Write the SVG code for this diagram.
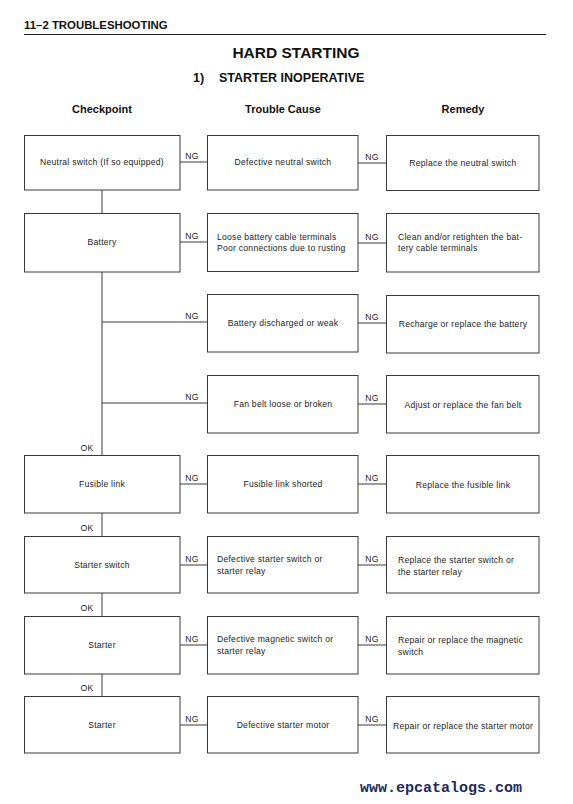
<svg xmlns="http://www.w3.org/2000/svg" width="573" height="804" viewBox="0 0 573 804">
<style>
.box{fill:#fff;stroke:#3a3a3a;stroke-width:1}
.ln{stroke:#3a3a3a;stroke-width:1;fill:none}
.t{font-family:"Liberation Sans",Arial,sans-serif;font-size:8.6px;letter-spacing:0.25px;fill:#222}
.c{text-anchor:middle}
.h{font-family:"Liberation Sans",Arial,sans-serif;font-weight:bold;fill:#111}
</style>
<rect width="573" height="804" fill="#fff"/>
<g id="header">
<text class="h" x="24" y="29" font-size="11.4">11–2  TROUBLESHOOTING</text>
<line x1="24" y1="34.5" x2="546" y2="34.5" stroke="#222" stroke-width="1.2"/>
<text class="h" x="296" y="58" font-size="15.5" text-anchor="middle">HARD STARTING</text>
<text class="h" x="193" y="82" font-size="12.5">1)</text>
<text class="h" x="219" y="82" font-size="12.5">STARTER INOPERATIVE</text>
<text class="h c" x="102" y="113" font-size="11">Checkpoint</text>
<text class="h c" x="283" y="113" font-size="11">Trouble Cause</text>
<text class="h c" x="463" y="113" font-size="11">Remedy</text>
</g>
<g id="connectors">
<line class="ln" x1="102" y1="190" x2="102" y2="213"/>
<line class="ln" x1="102" y1="272" x2="102" y2="455"/>
<line class="ln" x1="102" y1="513" x2="102" y2="536"/>
<line class="ln" x1="102" y1="593" x2="102" y2="616"/>
<line class="ln" x1="102" y1="674" x2="102" y2="696"/>
<line class="ln" x1="102" y1="322" x2="207" y2="322"/>
<line class="ln" x1="102" y1="403" x2="207" y2="403"/>
<line class="ln" x1="180" y1="162" x2="207" y2="162"/>
<line class="ln" x1="358" y1="163" x2="386" y2="163"/>
<line class="ln" x1="180" y1="242" x2="207" y2="242"/>
<line class="ln" x1="358" y1="243" x2="386" y2="243"/>
<line class="ln" x1="358" y1="323" x2="386" y2="323"/>
<line class="ln" x1="358" y1="404" x2="386" y2="404"/>
<line class="ln" x1="180" y1="484" x2="207" y2="484"/>
<line class="ln" x1="358" y1="484" x2="386" y2="484"/>
<line class="ln" x1="180" y1="565" x2="207" y2="565"/>
<line class="ln" x1="358" y1="565" x2="386" y2="565"/>
<line class="ln" x1="180" y1="645" x2="207" y2="645"/>
<line class="ln" x1="358" y1="645" x2="386" y2="645"/>
<line class="ln" x1="180" y1="725" x2="207" y2="725"/>
<line class="ln" x1="358" y1="725" x2="386" y2="725"/>
<g class="t c">
<text x="192" y="159">NG</text><text x="372" y="160">NG</text>
<text x="192" y="239">NG</text><text x="372" y="240">NG</text>
<text x="192" y="319">NG</text><text x="372" y="320">NG</text>
<text x="192" y="400">NG</text><text x="372" y="401">NG</text>
<text x="192" y="481">NG</text><text x="372" y="481">NG</text>
<text x="192" y="562">NG</text><text x="372" y="562">NG</text>
<text x="192" y="642">NG</text><text x="372" y="642">NG</text>
<text x="192" y="722">NG</text><text x="372" y="722">NG</text>
<text x="87" y="451">OK</text>
<text x="87" y="531">OK</text>
<text x="87" y="611">OK</text>
<text x="87" y="691">OK</text>
</g>
</g>
<g id="cp1"><rect class="box" x="24.5" y="135.5" width="155.5" height="54.5"/><text class="t c" x="102" y="165">Neutral switch (If so equipped)</text></g>
<g id="tc1"><rect class="box" x="207.5" y="135.5" width="150.5" height="54.5"/><text class="t c" x="283" y="165">Defective neutral switch</text></g>
<g id="rm1"><rect class="box" x="386.5" y="135.5" width="152.5" height="55"/><text class="t c" x="463" y="166">Replace the neutral switch</text></g>

<g id="cp2"><rect class="box" x="24.5" y="213.5" width="155.5" height="58.5"/><text class="t c" x="102" y="245">Battery</text></g>
<g id="tc2"><rect class="box" x="207.5" y="213.5" width="150.5" height="58"/><text class="t" x="217" y="240">Loose battery cable terminals</text><text class="t" x="217" y="251">Poor connections due to rusting</text></g>
<g id="rm2"><rect class="box" x="386.5" y="213.5" width="152.5" height="58.5"/><text class="t" x="398" y="240">Clean and/or retighten the bat-</text><text class="t" x="398" y="251">tery cable terminals</text></g>

<g id="tc3"><rect class="box" x="207.5" y="294.5" width="150.5" height="57.5"/><text class="t c" x="283" y="326">Battery discharged or weak</text></g>
<g id="rm3"><rect class="box" x="386.5" y="295.5" width="152.5" height="57.5"/><text class="t c" x="463" y="327">Recharge or replace the battery</text></g>

<g id="tc4"><rect class="box" x="207.5" y="375.5" width="150.5" height="57.5"/><text class="t c" x="283" y="407">Fan belt loose or broken</text></g>
<g id="rm4"><rect class="box" x="386.5" y="375.5" width="152.5" height="57.5"/><text class="t c" x="463" y="408">Adjust or replace the fan belt</text></g>

<g id="cp5"><rect class="box" x="24.5" y="455.5" width="155.5" height="57.5"/><text class="t c" x="102" y="487">Fusible link</text></g>
<g id="tc5"><rect class="box" x="207.5" y="455.5" width="150.5" height="57.5"/><text class="t c" x="283" y="487">Fusible link shorted</text></g>
<g id="rm5"><rect class="box" x="386.5" y="455.5" width="152.5" height="57.5"/><text class="t c" x="463" y="488">Replace the fusible link</text></g>

<g id="cp6"><rect class="box" x="24.5" y="536.5" width="155.5" height="56.5"/><text class="t c" x="102" y="568">Starter switch</text></g>
<g id="tc6"><rect class="box" x="207.5" y="536.5" width="150.5" height="56.5"/><text class="t" x="217" y="562">Defective starter switch or</text><text class="t" x="217" y="574">starter relay</text></g>
<g id="rm6"><rect class="box" x="386.5" y="536.5" width="152.5" height="56.5"/><text class="t" x="398" y="563">Replace the starter switch or</text><text class="t" x="398" y="575">the starter relay</text></g>

<g id="cp7"><rect class="box" x="24.5" y="616.5" width="155.5" height="57.5"/><text class="t c" x="102" y="648">Starter</text></g>
<g id="tc7"><rect class="box" x="207.5" y="616.5" width="150.5" height="57.5"/><text class="t" x="217" y="642">Defective magnetic switch or</text><text class="t" x="217" y="654">starter relay</text></g>
<g id="rm7"><rect class="box" x="386.5" y="616.5" width="152.5" height="57.5"/><text class="t" x="398" y="643">Repair or replace the magnetic</text><text class="t" x="398" y="655">switch</text></g>

<g id="cp8"><rect class="box" x="24.5" y="696.5" width="155.5" height="56.5"/><text class="t c" x="102" y="728">Starter</text></g>
<g id="tc8"><rect class="box" x="207.5" y="696.5" width="150.5" height="56.5"/><text class="t c" x="283" y="728">Defective starter motor</text></g>
<g id="rm8"><rect class="box" x="386.5" y="696.5" width="152.5" height="56.5"/><text class="t c" x="463" y="729">Repair or replace the starter motor</text></g>

<text x="360" y="792" font-family="'Liberation Mono','DejaVu Sans Mono',monospace" font-weight="bold" font-size="15" fill="#1c2a5e">www.epcatalogs.com</text>
</svg>
